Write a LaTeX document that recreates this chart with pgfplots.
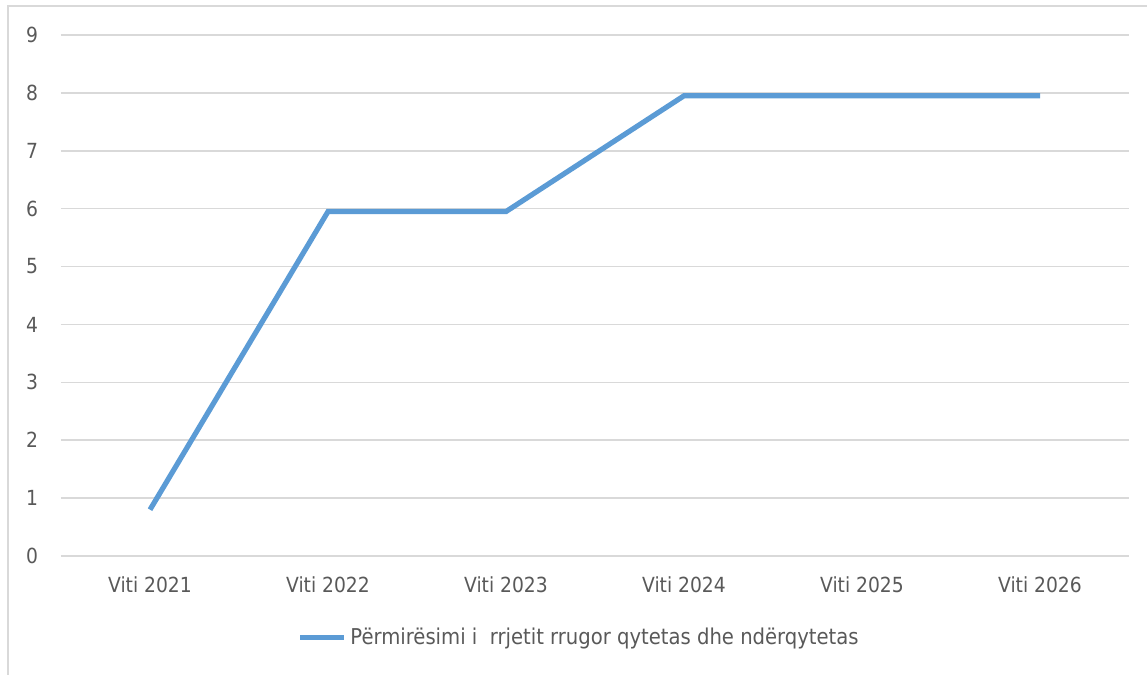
\documentclass[border=0pt]{standalone}
\usepackage{pgfplots}
\pgfplotsset{compat=1.18}
\usepackage{fontspec}
\setmainfont{DejaVu Sans Condensed}
\definecolor{lineblue}{HTML}{5B9BD5}
\definecolor{gridgray}{HTML}{D9D9D9}
\definecolor{textgray}{HTML}{595959}
\begin{document}
\begin{tikzpicture}
\useasboundingbox (0,0) rectangle (573.5pt,337.5pt);
\draw[gridgray, line width=0.8pt] (4pt,-20pt) rectangle (600pt,334.5pt);
\begin{axis}[
  at={(30.5pt,59.5pt)}, anchor=south west,
  scale only axis,
  width=534pt, height=260.5pt,
  xmin=-0.5, xmax=5.5, ymin=0, ymax=9,
  xtick={0,1,2,3,4,5},
  xticklabels={Viti 2021,Viti 2022,Viti 2023,Viti 2024,Viti 2025,Viti 2026},
  ytick={0,1,...,9},
  ymajorgrids, grid style={gridgray, line width=0.75pt},
  major tick length=0pt,
  axis line style={draw=none},
  tick label style={font=\fontsize{10.4}{12}\selectfont, text=textgray},
  yticklabel style={xshift=-8pt},
  xticklabel style={yshift=-7pt},
  /pgf/number format/assume math mode=true,
  legend style={at={(0.486,-0.157)}, anchor=center, draw=none, fill=none,
    font=\fontsize{10.9}{13}\selectfont, text=textgray},
  legend image code/.code={\draw[#1, line width=2.5pt] (0pt,0pt) -- (22pt,0pt);},
]
\addplot[lineblue, line width=2.6pt, no markers] coordinates {
 (0,0.8) (1,5.95) (2,5.95) (3,7.95) (4,7.95) (5,7.95)};
\addlegendentry{Përmirësimi i\ \ rrjetit rrugor qytetas dhe ndërqytetas}
\end{axis}
\end{tikzpicture}
\end{document}
